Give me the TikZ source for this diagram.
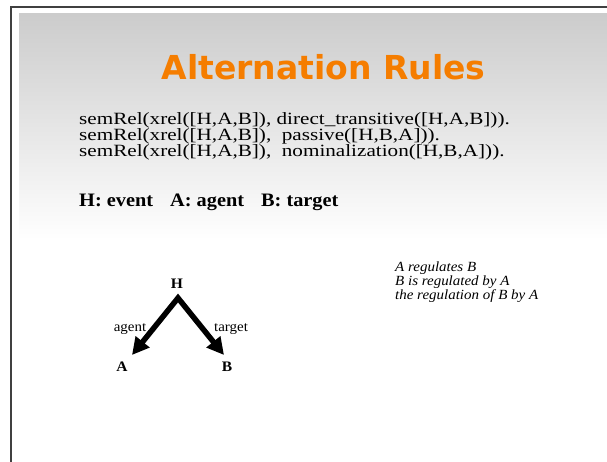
\documentclass[tikz,border=0pt]{standalone}
\usepackage{fontspec}
\setmainfont{Liberation Serif}[FakeStretch=1.07]
\newfontfamily\rulefont{Liberation Serif}[FakeStretch=1.23]
\newfontfamily\titlefont{DejaVu Sans}
\usetikzlibrary{arrows.meta}
\definecolor{titleorange}{HTML}{F57D00}
\tikzset{
  every picture/.style={line join=miter, >=Stealth},
  rule/.style={anchor=base west, inner sep=0pt, font=\rulefont\fontsize{17.2}{14}\selectfont},
  keyline/.style={anchor=base west, inner sep=0pt, font=\bfseries\fontsize{19}{14}\selectfont},
  vertex/.style={anchor=base, inner sep=0pt, font=\bfseries\fontsize{14.5}{16}\selectfont},
  role/.style={anchor=base, inner sep=0pt, font=\fontsize{14}{16}\selectfont},
  gloss/.style={anchor=base west, inner sep=0pt, font=\itshape\fontsize{14}{14}\selectfont},
  edge/.style={line width=5.5pt, {Triangle[length=17pt,width=17pt]}-{Triangle[length=17pt,width=17pt]}},
}

\begin{document}
\begin{tikzpicture}[x=1pt,y=-1pt]
\useasboundingbox (0,0) rectangle (607,462);
% slide frame and header shading
\shade[top color=black!20, bottom color=white] (19,14) rectangle (607,240);
\draw[black!75, line width=1.5pt] (11,462) -- (11,7) -- (607,7);
\node[anchor=base, inner sep=0pt, text=titleorange, font=\titlefont\bfseries\fontsize{33}{36}\selectfont] (title) at (323.5,80) {Alternation Rules};
% rules
\node[rule] (rule1) at (79,125) {semRel(xrel([H,A,B]), direct\_transitive([H,A,B])).};
\node[rule] (rule2) at (79,140.7) {semRel(xrel([H,A,B]),\ \ passive([H,B,A])).};
\node[rule] (rule3) at (79,156.4) {semRel(xrel([H,A,B]),\ \ nominalization([H,B,A])).};
\node[keyline] (key) at (79,207) {H: event\hspace{17pt}A: agent\hspace{17pt}B: target};
% tree
\node[vertex] (H) at (177,288) {H};
\node[vertex] (A) at (122,371) {A};
\node[vertex] (B) at (227,371) {B};
\coordinate (apex) at (178,298);
\coordinate (tipA) at (132,355);
\coordinate (tipB) at (224,355);
\draw[edge] (tipA) -- (apex) -- (tipB);
\node[role] (agent) at (130,331) {agent};
\node[role] (target) at (231,331) {target};
% readings
\node[gloss] (read1) at (395,271) {A regulates B};
\node[gloss] (read2) at (395,285) {B is regulated by A};
\node[gloss] (read3) at (395,299) {the regulation of B by A};
\end{tikzpicture}
\end{document}
